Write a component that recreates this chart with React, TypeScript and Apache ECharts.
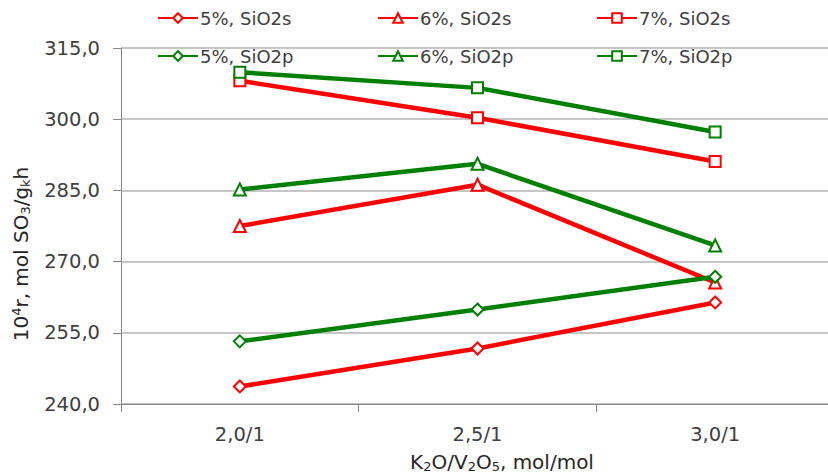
import React, { useEffect, useRef } from "react";
import * as echarts from "echarts";

const categories = ["2,0/1", "2,5/1", "3,0/1"];
const seriesNames = ["5%, SiO2s", "6%, SiO2s", "7%, SiO2s", "5%, SiO2p", "6%, SiO2p", "7%, SiO2p"];
const red5 = [243.7, 251.7, 261.4];
const red6 = [277.5, 286.2, 265.6];
const red7 = [308.1, 300.3, 291.1];
const green5 = [253.2, 259.9, 266.8];
const green6 = [285.2, 290.6, 273.4];
const green7 = [309.9, 306.6, 297.3];
const yMin = 240;
const yMax = 315;
const yStep = 15;
const xTitle = "{n|K}{s|2}{n|O/V}{s|2}{n|O}{s|5}{n|, mol/mol}";
const yTitle = "{n|10}{sup|4}{n|r, mol SO}{sub|3}{n|/g}{sub|k}{n|h}";

const RED = "#ff0000";
const GREEN = "#008000";
const FONT = "DejaVu Sans";

export default function App() {
  const ref = useRef<HTMLDivElement>(null);
  useEffect(() => {
    if (!ref.current) return;
    const chart = echarts.init(ref.current, null, { renderer: "svg" });
    const values = [red5, red6, red7, green5, green6, green7];
    const symbols = ["diamond", "triangle", "rect", "diamond", "triangle", "rect"];
    const series = values.map((d, i) => {
      const color = i < 3 ? RED : GREEN;
      return {
        name: seriesNames[i],
        type: "line",
        data: d,
        symbol: symbols[i],
        symbolSize: symbols[i] === "rect" ? 11 : 12,
        showAllSymbol: true,
        lineStyle: { color, width: 4.5 },
        itemStyle: { color: "#ffffff", borderColor: color, borderWidth: 2 },
        emphasis: { disabled: true },
      };
    });
    const legendLefts = [157, 377, 596];
    const legends = seriesNames.map((n, i) => ({
      data: [n],
      left: legendLefts[i % 3],
      top: i < 3 ? 9 : 47,
      itemWidth: 40,
      itemHeight: 12,
      itemGap: 0,
      textStyle: { fontFamily: FONT, fontSize: 18, color: "#404040", padding: [0, 0, 0, -3] },
      selectedMode: false,
      padding: 0,
    }));
    const titleRich = {
      n: { fontFamily: FONT, fontSize: 20, fill: "#262626", color: "#262626" },
      s: { fontFamily: FONT, fontSize: 13, fill: "#262626", color: "#262626", padding: [9, 0, 0, 0] },
      sub: { fontFamily: FONT, fontSize: 13, fill: "#262626", color: "#262626", padding: [9, 0, 0, 0] },
      sup: { fontFamily: FONT, fontSize: 13, fill: "#262626", color: "#262626", padding: [0, 0, 9, 0] },
    };
    chart.setOption({
      animation: false,
      backgroundColor: "#ffffff",
      textStyle: { fontFamily: FONT },
      legend: legends,
      grid: {
        left: 121,
        top: 48,
        width: 713,
        height: 356,
        containLabel: false,
        outerBoundsMode: "none",
      },
      graphic: [
        {
          type: "text",
          x: 502,
          y: 462,
          style: {
            text: xTitle,
            rich: titleRich,
            align: "center",
            verticalAlign: "middle",
            fill: "#262626",
            font: `20px '${FONT}'`,
          },
        },
        {
          type: "text",
          x: 21,
          y: 254,
          rotation: Math.PI / 2,
          style: {
            text: yTitle,
            rich: titleRich,
            align: "center",
            verticalAlign: "middle",
            fill: "#262626",
            font: `20px '${FONT}'`,
          },
        },
      ],
      xAxis: {
        type: "category",
        data: categories,
        boundaryGap: true,
        axisLine: { lineStyle: { color: "#868686", width: 1 } },
        axisTick: { show: true, inside: false, length: 8, lineStyle: { color: "#868686" } },
        axisLabel: { color: "#404040", fontFamily: FONT, fontSize: 19.5, margin: 20 },
      },
      yAxis: {
        type: "value",
        min: yMin,
        max: yMax,
        interval: yStep,
        axisLine: { show: true, lineStyle: { color: "#868686", width: 1 } },
        axisTick: { show: true, inside: false, length: 8, lineStyle: { color: "#868686" } },
        splitLine: { show: true, lineStyle: { color: "#b3b3b3", width: 1.5 } },
        axisLabel: {
          color: "#404040",
          fontFamily: FONT,
          fontSize: 19.5,
          margin: 21,
          formatter: (v: number) => v.toFixed(1).replace(".", ","),
        },
      },
      series,
    });
    return () => chart.dispose();
  }, []);
  return (
    <div
      ref={ref}
      style={{ position: "fixed", left: 0, top: 0, width: 828, height: 475, background: "#fff" }}
    />
  );
}
